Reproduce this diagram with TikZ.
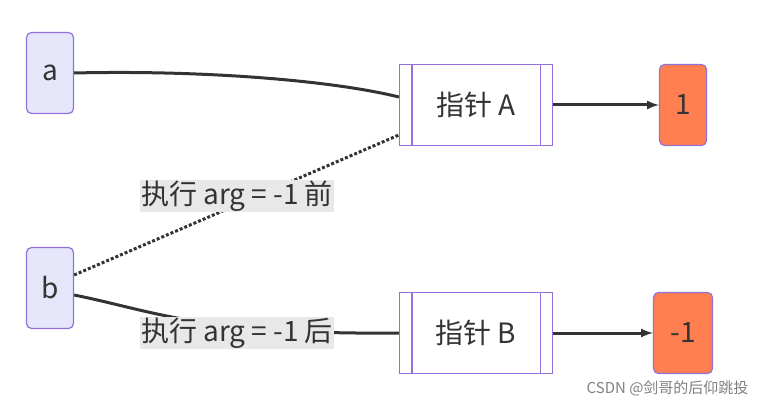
\documentclass[tikz,border=0pt]{standalone}
\usepackage{fontspec}
\setmainfont{Noto Sans CJK SC}
\begin{document}
\begin{tikzpicture}[x=1pt,y=-1pt,
  leaf/.style={draw=mpurple,fill=mfill,rounded corners=5pt,line width=1.2pt,minimum width=47pt,minimum height=81pt,font=\fontsize{28}{32}\selectfont,text=mtext},
  val/.style={draw=mpurple,fill=morange,rounded corners=5pt,line width=1.2pt,minimum height=81pt,font=\fontsize{28}{32}\selectfont,text=mtext},
  sub/.style={draw=mpurple,fill=white,line width=1.2pt,minimum width=153pt,minimum height=81pt,font=\fontsize{28}{32}\selectfont,text=mtext},
  edge/.style={draw=mtext,line width=3pt},
  lbl/.style={fill=mgray,inner sep=1pt,font=\fontsize{28}{32}\selectfont,text=mtext}]
\definecolor{mpurple}{HTML}{9370DB}
\definecolor{mfill}{HTML}{E6E6FA}
\definecolor{morange}{HTML}{FF7F50}
\definecolor{mtext}{HTML}{333333}
\definecolor{mgray}{HTML}{E8E8E8}
\useasboundingbox (0,0) rectangle (764,409);
\node[leaf] (a) at (50,73) {a};
\node[leaf] (b) at (50,288) {b};
\node[sub] (A) at (476,105) {指针 A};
\node[sub] (B) at (476,333) {指针 B};
\foreach \n in {A,B}{
  \draw[mpurple,line width=1.2pt] ([xshift=13pt]\n.north west) -- ([xshift=13pt]\n.south west);
  \draw[mpurple,line width=1.2pt] ([xshift=-13pt]\n.north east) -- ([xshift=-13pt]\n.south east);}
\node[val,minimum width=47pt] (v1) at (683,105) {1};
\node[val,minimum width=59pt] (v2) at (683,333) {-1};
\draw[edge] (a.east) .. controls (200,70) and (330,80) .. ([yshift=8pt]A.west);
\draw[edge,dotted] ([yshift=13pt]b.east) -- ([yshift=-30pt]A.west);
\draw[edge] ([yshift=-7pt]b.east) .. controls (150,310) and (200,335) .. (B.west);
\draw[edge,-latex] (A.east) -- (v1.west);
\draw[edge,-latex] (B.east) -- (v2.west);
\node[lbl] (l1) at (237,196) {执行 arg = -1 前};
\node[lbl] (l2) at (237,333) {执行 arg = -1 后};
\node[text=gray,font=\fontsize{15}{18}\selectfont,anchor=east] (wm) at (752,388) {CSDN @剑哥的后仰跳投};
\end{tikzpicture}
\end{document}
